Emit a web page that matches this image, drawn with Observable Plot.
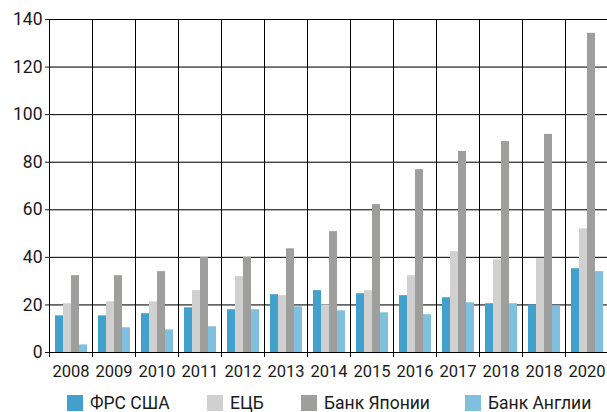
<!DOCTYPE html>
<html>
<head>
<meta charset="utf-8">
<script src="https://cdn.jsdelivr.net/npm/d3@7"></script>
<script src="https://cdn.jsdelivr.net/npm/@observablehq/plot@0.6"></script>
<style>
  html, body { margin: 0; padding: 0; background: #fff; overflow: hidden; }
  #wrap { position: relative; width: 607px; height: 412px; overflow: hidden; font-family: Roboto, "Noto Sans", sans-serif; color: #1a1a1a; }
  #chart { position: absolute; left: 0; top: 0; width: 620px; }
  #chart svg { max-width: none !important; width: 620px; height: 390px; }
  #chart svg [aria-label^="fx-axis"] { font-size: 16.5px; }
  #legend { position: absolute; left: 0; top: 394px; width: 607px; height: 18px; font-size: 17.5px; line-height: 18px; white-space: nowrap; }
  .item { position: absolute; top: 0; display: flex; align-items: center; }
  .sw { width: 16px; height: 16px; margin-right: 7px; }
</style>
</head>
<body>
<div id="wrap"><div id="chart"></div><div id="legend"></div></div>
<script>
const years = ["2008","2009","2010","2011","2012","2013","2014","2015","2016","2017","2018","2018","2020"];
const seriesNames = ["ФРС США", "ЕЦБ", "Банк Японии", "Банк Англии"];
const colors = ["#41a0cc", "#d0d0d0", "#9e9e9c", "#80c0de"];
const fed = [15.4, 15.4, 16.3, 18.8, 18.0, 24.3, 26.0, 24.7, 23.9, 23.0, 20.5, 20.0, 35.2];
const ecb = [20.5, 21.3, 21.3, 26.0, 31.9, 23.9, 20.0, 26.0, 32.3, 42.4, 39.0, 39.4, 52.0];
const boj = [32.3, 32.3, 34.0, 40.0, 40.0, 43.6, 50.8, 62.2, 76.9, 84.5, 88.7, 91.7, 134.2];
const boe = [3.2, 10.4, 9.5, 10.8, 18.0, 19.2, 17.5, 16.7, 15.9, 20.9, 20.5, 19.6, 34.0];
const yTicks = [0, 20, 40, 60, 80, 100, 120, 140];

const seriesValues = [fed, ecb, boj, boe];
const data = [];
years.forEach((y, i) => {
  seriesNames.forEach((s, j) => data.push({idx: i, series: s, value: seriesValues[j][i]}));
});

const chart = Plot.plot({
  width: 620,
  height: 390,
  marginLeft: 44,
  marginRight: 8,
  marginTop: 19,
  marginBottom: 38,
  style: { fontFamily: "Roboto, 'Noto Sans', sans-serif", fontSize: "17.5px", color: "#1a1a1a", background: "transparent", maxWidth: "none" },
  fx: { domain: d3.range(years.length), paddingInner: 0, paddingOuter: 0, label: null, tickSize: 0, tickPadding: 13, tickFormat: i => years[i] },
  x: { domain: seriesNames, paddingInner: 0, paddingOuter: 0.45, axis: null },
  y: { domain: [0, 140], ticks: yTicks, label: null, tickSize: 4, tickPadding: 3, grid: true },
  color: { domain: seriesNames, range: colors },
  marks: [
    Plot.gridY(yTicks, { stroke: "#000", strokeOpacity: 1 }),
    Plot.frame({ anchor: "left", stroke: "#000", insetBottom: -4 }),
    Plot.barY(data, { fx: "idx", x: "series", y: "value", fill: "series" })
  ]
});
document.getElementById("chart").appendChild(chart);

const legend = document.getElementById("legend");
const legendLeft = [67, 207, 301, 465];
seriesNames.forEach((s, j) => {
  const it = document.createElement("div");
  it.className = "item";
  it.style.left = legendLeft[j] + "px";
  const sw = document.createElement("div");
  sw.className = "sw";
  sw.style.background = colors[j];
  const t = document.createElement("span");
  t.textContent = s;
  it.appendChild(sw);
  it.appendChild(t);
  legend.appendChild(it);
});
</script>
</body>
</html>
